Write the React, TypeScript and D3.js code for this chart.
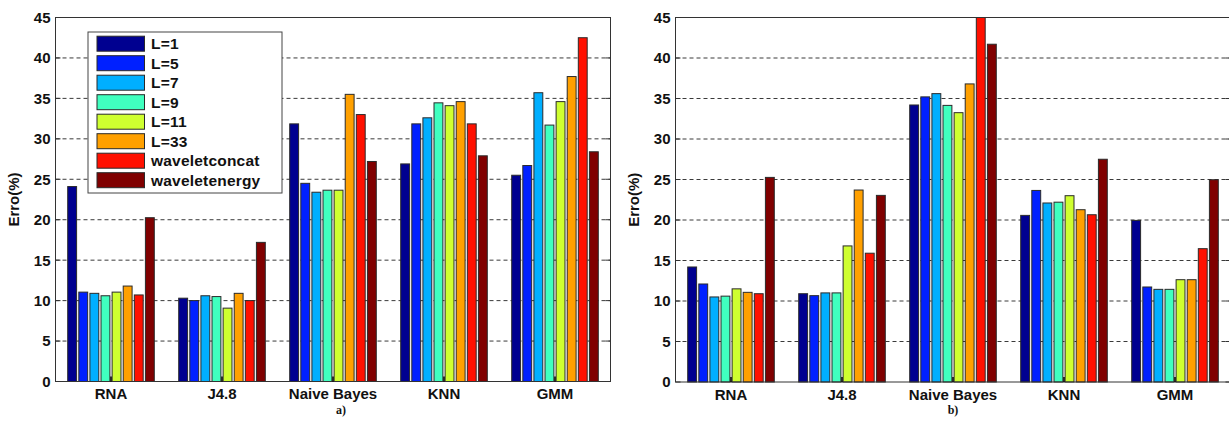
import React from "react";
import * as d3 from "d3";

const categories = ["RNA", "J4.8", "Naive Bayes", "KNN", "GMM"];
const seriesNames = ["L=1", "L=5", "L=7", "L=9", "L=11", "L=33", "waveletconcat", "waveletenergy"];
const seriesColors = ["#000090", "#0020FF", "#00AFFF", "#40FFBF", "#CFFF30", "#FFA000", "#FF1000", "#800000"];
const yTicks = [0, 5, 10, 15, 20, 25, 30, 35, 40, 45];

// values per category, in series order (chart a)
const chartA_RNA = [24.1, 11.05, 10.9, 10.6, 11.05, 11.8, 10.7, 20.25];
const chartA_J48 = [10.3, 10.0, 10.6, 10.5, 9.07, 10.9, 10.0, 17.2];
const chartA_NB = [31.85, 24.5, 23.4, 23.65, 23.65, 35.5, 33.0, 27.2];
const chartA_KNN = [26.9, 31.85, 32.6, 34.45, 34.1, 34.6, 31.85, 27.9];
const chartA_GMM = [25.5, 26.7, 35.7, 31.7, 34.6, 37.7, 42.5, 28.4];

// chart b
const chartB_RNA = [14.2, 12.1, 10.5, 10.6, 11.5, 11.07, 10.9, 25.26];
const chartB_J48 = [10.9, 10.66, 11.0, 11.0, 16.8, 23.7, 15.9, 23.04];
const chartB_NB = [34.2, 35.2, 35.6, 34.15, 33.25, 36.8, 45.0, 41.7];
const chartB_KNN = [20.57, 23.65, 22.1, 22.2, 23.0, 21.27, 20.65, 27.5];
const chartB_GMM = [19.95, 11.73, 11.44, 11.44, 12.63, 12.63, 16.46, 24.97];

const chartA = [chartA_RNA, chartA_J48, chartA_NB, chartA_KNN, chartA_GMM];
const chartB = [chartB_RNA, chartB_J48, chartB_NB, chartB_KNN, chartB_GMM];

const FONT = "'Liberation Sans', Arial, sans-serif";

type PanelProps = {
  data: number[][];
  left: number;
  right: number;
  top: number;
  bottom: number;
  caption: string;
  captionX: number;
  legend: boolean;
};

function Panel({ data, left, right, top, bottom, caption, captionX, legend }: PanelProps) {
  const x0 = d3.scaleBand<string>().domain(categories).range([left, right]).padding(0);
  const bw = x0.bandwidth();
  const x1 = d3
    .scaleBand<string>()
    .domain(seriesNames)
    .range([0.1 * bw, 0.9 * bw])
    .paddingInner(0.2)
    .paddingOuter(0.1);
  const y = d3.scaleLinear().domain([0, 45]).range([bottom, top]);
  const axisColor = "#333";

  return (
    <g>
      {yTicks
        .filter((t) => t > 0 && t < 45)
        .map((t) => (
          <line
            key={"g" + t}
            x1={left}
            x2={right}
            y1={y(t)}
            y2={y(t)}
            stroke="#3a3a3a"
            strokeWidth={1}
            strokeDasharray="4,3"
          />
        ))}
      {data.map((vals, ci) =>
        vals.map((v, si) => (
          <rect
            key={ci + "-" + si}
            x={(x0(categories[ci]) as number) + (x1(seriesNames[si]) as number)}
            y={y(v)}
            width={x1.bandwidth()}
            height={bottom - y(v)}
            fill={seriesColors[si]}
            stroke="#2a2a2a"
            strokeWidth={1}
          />
        ))
      )}
      <rect x={left} y={top} width={right - left} height={bottom - top} fill="none" stroke={axisColor} strokeWidth={1} />
      {yTicks.map((t) => (
        <g key={"t" + t}>
          <line x1={left} x2={left + 5} y1={y(t)} y2={y(t)} stroke={axisColor} />
          <line x1={right - 5} x2={right} y1={y(t)} y2={y(t)} stroke={axisColor} />
          <text
            x={left - 5}
            y={y(t)}
            dy="0.36em"
            textAnchor="end"
            fontFamily={FONT}
            fontWeight="bold"
            fontSize={15}
            fill="#111"
          >
            {t}
          </text>
        </g>
      ))}
      {categories.map((c) => {
        const cx = (x0(c) as number) + bw / 2;
        return (
          <g key={"x" + c}>
            <line x1={cx} x2={cx} y1={bottom} y2={bottom - 5} stroke="#000" strokeWidth={1.5} />
            <text
              x={cx}
              y={bottom + 17.5}
              textAnchor="middle"
              fontFamily={FONT}
              fontWeight="bold"
              fontSize={15}
              fill="#111"
            >
              {c}
            </text>
          </g>
        );
      })}
      <text
        transform={`translate(${left - 37},${(top + bottom) / 2}) rotate(-90)`}
        textAnchor="middle"
        fontFamily={FONT}
        fontWeight="bold"
        fontSize={15}
        fill="#111"
      >
        Erro(%)
      </text>
      <text
        x={captionX}
        y={414}
        textAnchor="middle"
        fontFamily="'Liberation Serif', 'Times New Roman', serif"
        fontWeight="bold"
        fontSize={12}
        fill="#111"
      >
        {caption}
      </text>
      {legend && (
        <g>
          <rect x={88} y={32} width={194} height={161} fill="#fff" stroke="#444" strokeWidth={1} />
          {seriesNames.map((s, i) => {
            const cy = 43.7 + i * 19.5;
            return (
              <g key={"l" + s}>
                <rect x={97} y={cy - 7.5} width={47.5} height={15} fill={seriesColors[i]} stroke="#2a2a2a" />
                <text
                  x={151}
                  y={cy}
                  dy="0.36em"
                  fontFamily={FONT}
                  fontWeight="bold"
                  fontSize={15.5}
                  letterSpacing={0.2}
                  fill="#111"
                >
                  {s}
                </text>
              </g>
            );
          })}
        </g>
      )}
    </g>
  );
}

export default function App() {
  return (
    <svg
      width={1229}
      height={423}
      style={{ position: "absolute", left: 0, top: 0, background: "#fff" }}
    >
      <rect x={0} y={0} width={1229} height={423} fill="#fff" />
      <Panel data={chartA} left={55.5} right={610.5} top={17.5} bottom={381.5} caption="a)" captionX={341} legend={true} />
      <Panel data={chartB} left={675.5} right={1230.5} top={17.5} bottom={382} caption="b)" captionX={953} legend={false} />
    </svg>
  );
}
